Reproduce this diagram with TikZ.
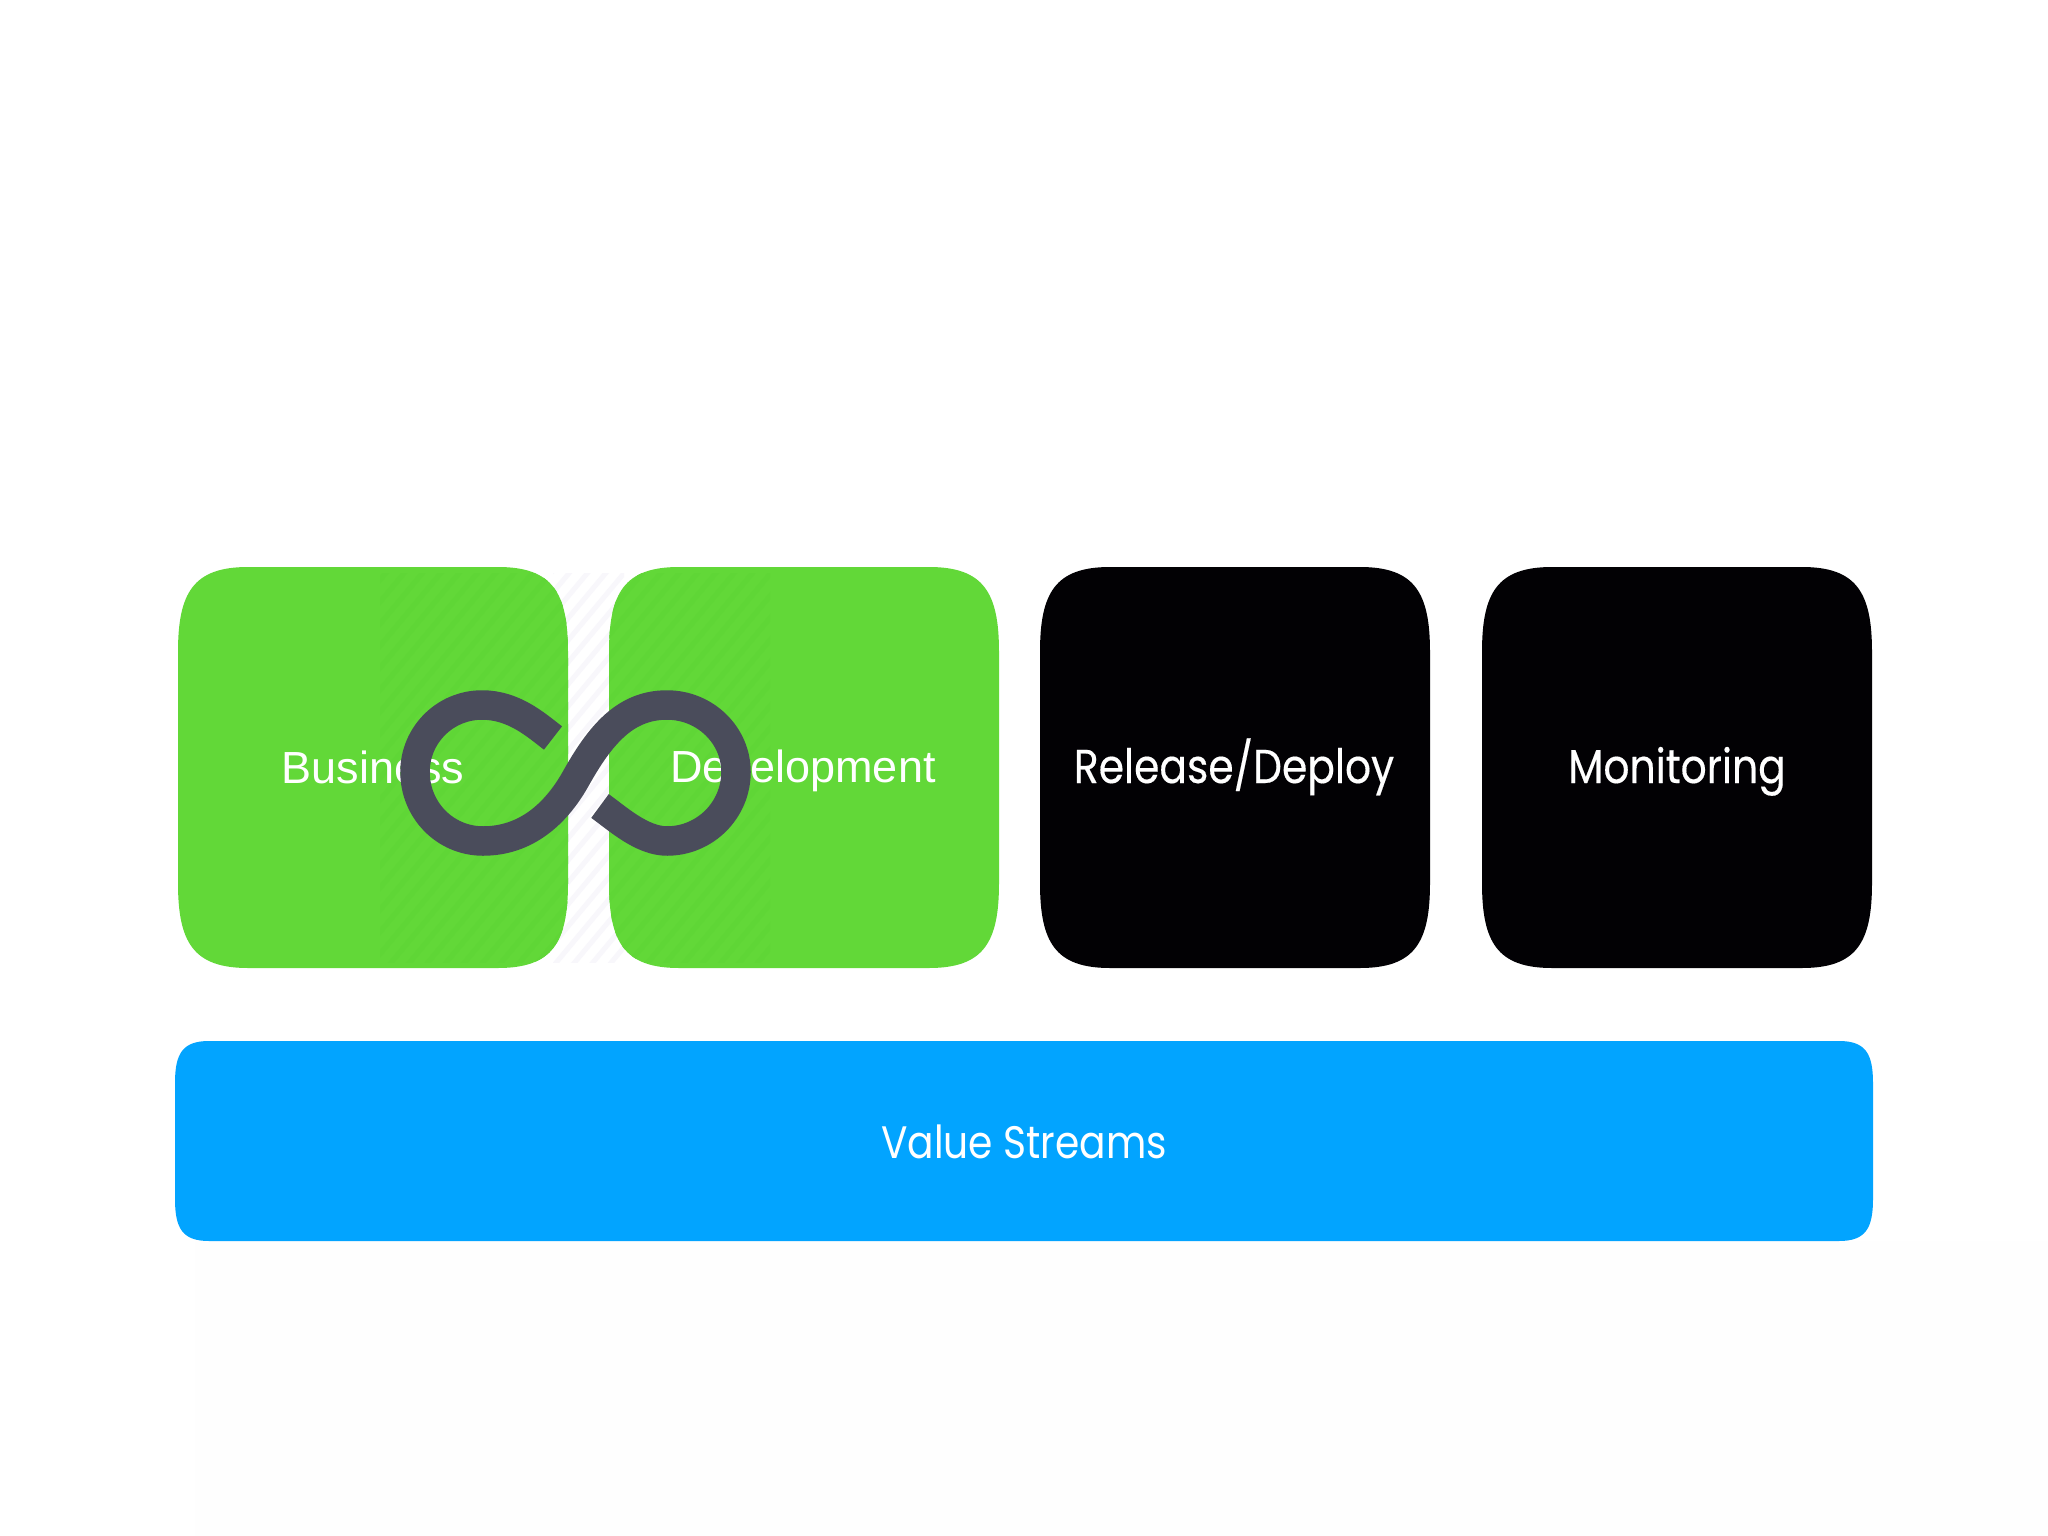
\documentclass[tikz,border=0pt]{standalone}
\usepackage{fontspec}
\setmainfont{Liberation Sans}
\newfontfamily\geofont[FakeStretch=0.86,FakeBold=0.3]{Poppins}
\newfontfamily\geolight[FakeStretch=0.86]{Poppins}
\definecolor{boxgreen}{HTML}{62D838}
\definecolor{stripegreen}{HTML}{5FD636}
\definecolor{boxblack}{HTML}{020104}
\definecolor{boxblue}{HTML}{02A4FF}
\definecolor{loopgrey}{HTML}{4A4C5B}
\definecolor{paper}{HTML}{FEFEFE}
\definecolor{stripe}{HTML}{F8F7FB}
\tikzset{
  x=1pt,y=-1pt,
  helvlabel/.style={text=white,font=\fontsize{45}{45}\selectfont,anchor=base,inner sep=0pt},
  geolabel/.style={text=white,font=\geofont\fontsize{47.5}{47.5}\selectfont,anchor=base,inner sep=0pt},
  valuelabel/.style={text=white,font=\geolight\fontsize{45.5}{45.5}\selectfont,anchor=base,inner sep=0pt},
  loopline/.style={draw=loopgrey,line width=29.5pt,line cap=butt,line join=round},
}
\newcommand{\sqpath}[6]{% x0 y0 x1 y1 rx ry
  (#1+#5,#2) -- (#3-#5,#2)
    .. controls (#3-0.22*#5,#2) and (#3,#2+0.3*#6) .. (#3,#2+#6)
    -- (#3,#4-#6)
    .. controls (#3,#4-0.3*#6) and (#3-0.22*#5,#4) .. (#3-#5,#4)
    -- (#1+#5,#4)
    .. controls (#1+0.22*#5,#4) and (#1,#4-0.3*#6) .. (#1,#4-#6)
    -- (#1,#2+#6)
    .. controls (#1,#2+0.3*#6) and (#1+0.22*#5,#2) .. (#1+#5,#2) -- cycle}
\newcommand{\stripes}[1]{%
  \foreach \k in {0,...,50}{
    \draw[#1,line width=5pt] (300,500+\k*22) -- (800,500+\k*22-600);
  }}
\begin{document}
\begin{tikzpicture}
\useasboundingbox (0,0) rectangle (2048,1536);
\fill[white] (0,0) rectangle (2048,1536);
\fill[paper] (195,1241) rectangle (2048,1536);
% faint hatching behind the two green boxes
\begin{scope}
  \clip (553,573) rectangle (624,962);
  \stripes{stripe}
\end{scope}
\fill[boxgreen] \sqpath{178}{567}{568}{968}{70}{85};
\fill[boxgreen] \sqpath{609}{567}{999}{968}{70}{85};
\begin{scope}
  \clip \sqpath{178}{567}{568}{968}{70}{85};
  \clip (380,573) rectangle (770,962);
  \stripes{stripegreen}
\end{scope}
\begin{scope}
  \clip \sqpath{609}{567}{999}{968}{70}{85};
  \clip (380,573) rectangle (770,962);
  \stripes{stripegreen}
\end{scope}
\fill[boxblack] \sqpath{1040}{567}{1430}{968}{70}{85};
\fill[boxblack] \sqpath{1482}{567}{1872}{968}{70}{85};
\fill[boxblue] \sqpath{175}{1041}{1873}{1241}{34}{42};
\node[helvlabel] (business) at (373,783) {Business};
\node[helvlabel] (development) at (803,782) {Development};
\node[geolabel] (release) at (1234,783) {Release/Deploy};
\node[geolabel] (monitoring) at (1677,783) {Monitoring};
\node[valuelabel] (value) at (1024,1158) {Value Streams};
\draw[loopline] (553,738)
  .. controls (536,725) and (514,705) .. (482,705)
  .. controls (445,705) and (415,735) .. (415,772)
  .. controls (415,810) and (445,841) .. (483,841)
  .. controls (525,841) and (555,815) .. (575,780)
  .. controls (600,735) and (625,705) .. (667,705)
  .. controls (705,705) and (736,735) .. (736,772)
  .. controls (736,810) and (705,841) .. (667,841)
  .. controls (642,841) and (618,819) .. (600,806);
\end{tikzpicture}
\end{document}
